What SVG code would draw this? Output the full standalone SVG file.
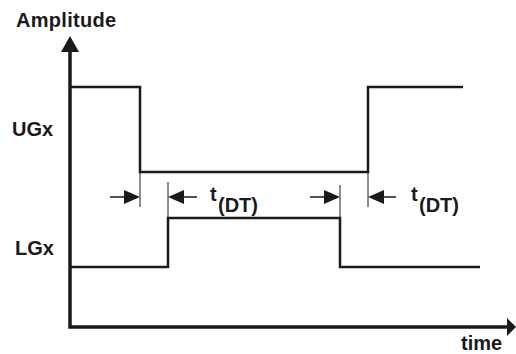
<svg xmlns="http://www.w3.org/2000/svg" width="516" height="354" viewBox="0 0 516 354">
<style>
text{font-family:"Liberation Sans",Arial,sans-serif;font-weight:bold;font-size:20px;fill:#1a1a1a}
.axis{stroke:#1a1a1a;stroke-width:3.5;fill:none}
.wave{stroke:#1a1a1a;stroke-width:2.5;fill:none;stroke-linejoin:miter}
.ext{stroke:#1a1a1a;stroke-width:1;fill:none}
.dim{stroke:#1a1a1a;stroke-width:1.5;fill:none}
.head{fill:#1a1a1a}
</style>
<rect width="516" height="354" fill="#fff"/>
<g id="axes">
<polyline class="axis" points="70,50 70,327 508,327"/>
<polygon class="head" points="70,36 61,52 79,52"/>
<polygon class="head" points="516,327 507,318 507,336"/>
<text x="16" y="27" letter-spacing="0.3">Amplitude</text>
<text x="461" y="350">time</text>
</g>
<g id="UGx">
<polyline class="wave" points="70,87 140,87 140,172 368,172 368,87 463,87"/>
<text x="12" y="136">UGx</text>
</g>
<g id="LGx">
<polyline class="wave" points="70,267 168,267 168,218 340,218 340,267 480,267"/>
<text x="15" y="255">LGx</text>
</g>
<g id="connectors">
<line class="ext" x1="140" y1="172" x2="140" y2="207"/>
<line class="ext" x1="168" y1="182" x2="168" y2="218"/>
<line class="ext" x1="340" y1="185" x2="340" y2="218"/>
<line class="ext" x1="368" y1="172" x2="368" y2="207"/>
<line class="dim" x1="110" y1="197" x2="126" y2="197"/>
<polygon class="head" points="124,190 140,197 124,204"/>
<line class="dim" x1="182" y1="197" x2="197" y2="197"/>
<polygon class="head" points="168,197 184,190 184,204"/>
<line class="dim" x1="310" y1="197" x2="326" y2="197"/>
<polygon class="head" points="324,190 340,197 324,204"/>
<line class="dim" x1="382" y1="197" x2="396" y2="197"/>
<polygon class="head" points="368,197 384,190 384,204"/>
</g>
<g id="label-dt1">
<text x="210" y="201">t</text>
<text x="218" y="212">(DT)</text>
</g>
<g id="label-dt2">
<text x="411" y="201">t</text>
<text x="419" y="212">(DT)</text>
</g>
</svg>
